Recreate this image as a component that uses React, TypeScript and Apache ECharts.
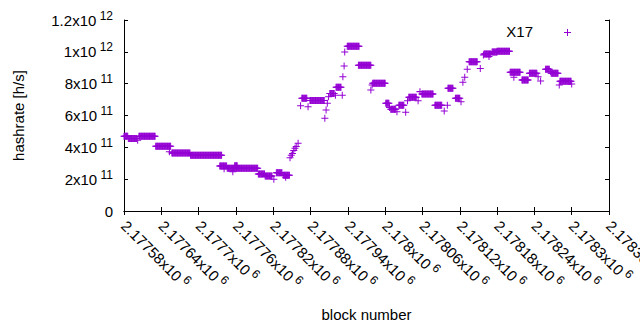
import React, { useEffect, useRef } from "react";
import * as echarts from "echarts";

// Runs of blocks with a constant hashrate estimate
const runStart = [
  2177580, 2177587, 2177602, 2177604, 2177631, 2177653, 2177657, 2177687, 2177734, 2177741,
  2177755, 2177758, 2177746, 2177796, 2177807, 2177821, 2177825, 2177836, 2177840, 2177847,
  2177849, 2177851, 2177853, 2177855, 2177857, 2177860, 2177864, 2177866, 2177876, 2177879,
  2177903, 2177905, 2177907, 2177909, 2177911, 2177920, 2177921, 2177931, 2177932, 2177934,
  2177935, 2177939, 2177957, 2177977, 2177979, 2177980, 2178001, 2178007, 2178009, 2178019,
  2178022, 2178033, 2178036, 2178038, 2178053, 2178056, 2178059, 2178080, 2178095, 2178100,
  2178101, 2178113, 2178122, 2178125, 2178128, 2178132, 2178135, 2178153, 2178158, 2178159,
  2178167, 2178172, 2178180, 2178201, 2178207, 2178220, 2178232, 2178246, 2178250, 2178258,
  2178266, 2178267, 2178280, 2178281, 2178300,
];
const runEnd = [
  2177586, 2177600, 2177602, 2177630, 2177655, 2177653, 2177686, 2177737, 2177745, 2177741,
  2177755, 2177762, 2177795, 2177806, 2177818, 2177821, 2177834, 2177846, 2177840, 2177847,
  2177849, 2177851, 2177853, 2177855, 2177857, 2177860, 2177864, 2177874, 2177876, 2177902,
  2177903, 2177905, 2177907, 2177909, 2177918, 2177920, 2177929, 2177931, 2177932, 2177934,
  2177935, 2177958, 2177977, 2177977, 2177979, 2178000, 2178006, 2178007, 2178017, 2178019,
  2178030, 2178033, 2178036, 2178050, 2178053, 2178056, 2178077, 2178091, 2178095, 2178100,
  2178109, 2178120, 2178122, 2178125, 2178128, 2178132, 2178148, 2178153, 2178158, 2178170,
  2178167, 2178180, 2178200, 2178217, 2178207, 2178230, 2178244, 2178246, 2178250, 2178264,
  2178266, 2178278, 2178280, 2178299, 2178300,
];
const runValue = [
  4.69e11, 4.55e11, 4.45e11, 4.69e11, 4.07e11, 3.73e11, 3.64e11, 3.5e11, 2.83e11, 2.66e11,
  2.47e11, 2.85e11, 2.68e11, 2.32e11, 2.2e11, 1.99e11, 2.41e11, 2.24e11, 2.12e11, 3.35e11,
  3.5e11, 3.62e11, 3.8e11, 3.94e11, 4.05e11, 4.25e11, 6.62e11, 7.08e11, 6.55e11, 6.95e11,
  5.82e11, 6.35e11, 6.77e11, 7.18e11, 7.39e11, 7.27e11, 7.77e11, 7.27e11, 8.44e11, 9.11e11,
  9.99e11, 1.035e12, 9.15e11, 7.6e11, 7.92e11, 8.02e11, 6.77e11, 6.51e11, 6.39e11, 6.24e11,
  6.64e11, 6.2e11, 6.93e11, 7.14e11, 6.93e11, 7.5e11, 7.35e11, 6.64e11, 6.28e11, 6.64e11,
  7.71e11, 7.08e11, 6.87e11, 8.09e11, 8.4e11, 8.9e11, 9.38e11, 8.96e11, 9.8e11, 9.86e11,
  9.7e11, 9.99e11, 1.003e12, 8.71e11, 8.4e11, 8.23e11, 8.65e11, 8.44e11, 8.17e11, 8.9e11,
  8.77e11, 8.65e11, 7.92e11, 8.15e11, 7.98e11,
];

const xTickMantissa = [
  "2.17758", "2.17764", "2.1777", "2.17776", "2.17782", "2.17788", "2.17794",
  "2.178", "2.17806", "2.17812", "2.17818", "2.17824", "2.1783", "2.17836",
];
const xTickExp = "6";
const yTickMantissa = ["0", "2", "4", "6", "8", "1", "1.2"];
const yTickExp = ["", "11", "11", "11", "11", "12", "12"];

const seriesName = "X17";
const COLOR = "#9400d3";
const FONT = "Liberation Sans, Arial, sans-serif";
const PLUS = "path://M3,0h1v3h3v1h-3v3h-1v-3h-3v-1h3z";

export default function App() {
  const ref = useRef<HTMLDivElement>(null);
  useEffect(() => {
    if (!ref.current) return;
    const chart = echarts.init(ref.current, undefined, { renderer: "svg" });
    const points: number[][] = [];
    for (let i = 0; i < runStart.length; i++) {
      for (let b = runStart[i]; b <= runEnd[i]; b++) points.push([b, runValue[i]]);
    }
    const rich = {
      m: { fontSize: 15, fontFamily: FONT, color: "#000" },
      e: { fontSize: 12, fontFamily: FONT, color: "#000", padding: [0, 0, 9, 0] },
    };
    const xMin = 2177580, xMax = 2178360, xInt = 60;
    const tickStyle = { show: true, inside: true, length: 4, lineStyle: { color: "#000" } };
    const lineStyle = { show: true, lineStyle: { color: "#000", width: 1 } };
    chart.setOption({
      animation: false,
      textStyle: { fontFamily: FONT },
      grid: {
        left: 124,
        right: 31,
        top: 20,
        bottom: 119,
        containLabel: false,
        outerBoundsMode: "none",
      },
      graphic: [
        {
          type: "text",
          right: 640 - 533,
          top: 24,
          style: { text: seriesName, fontSize: 15, fill: "#000", fontFamily: FONT },
        },
        {
          type: "rect",
          shape: { x: 564, y: 32, width: 7, height: 1 },
          style: { fill: COLOR },
        },
        {
          type: "rect",
          shape: { x: 567, y: 29, width: 1, height: 7 },
          style: { fill: COLOR },
        },
      ],
      xAxis: [
        {
          type: "value",
          min: xMin,
          max: xMax,
          interval: xInt,
          splitLine: { show: false },
          axisLine: lineStyle,
          axisTick: tickStyle,
          axisLabel: {
            rotate: -45,
            margin: 12,
            formatter: (v: number) =>
              `{m|${xTickMantissa[Math.round((v - xMin) / xInt)]}x10}{e| ${xTickExp}}`,
            rich,
          },
          name: "block number",
          nameLocation: "middle",
          nameGap: 96,
          nameTextStyle: { fontSize: 15, color: "#000", fontFamily: FONT },
        },
        {
          type: "value",
          position: "top",
          min: xMin,
          max: xMax,
          interval: xInt,
          splitLine: { show: false },
          axisLine: lineStyle,
          axisTick: tickStyle,
          axisLabel: { show: false },
        },
      ],
      yAxis: [
        {
          type: "value",
          min: 0,
          max: 1.2e12,
          interval: 2e11,
          splitLine: { show: false },
          axisLine: lineStyle,
          axisTick: tickStyle,
          axisLabel: {
            margin: 11,
            formatter: (v: number) => {
              const idx = Math.round(v / 2e11);
              return yTickExp[idx]
                ? `{m|${yTickMantissa[idx]}x10}{e| ${yTickExp[idx]}}`
                : `{m|${yTickMantissa[idx]}}`;
            },
            rich,
          },
          name: "hashrate [h/s]",
          nameLocation: "middle",
          nameGap: 98,
          nameTextStyle: { fontSize: 15, color: "#000", fontFamily: FONT },
        },
        {
          type: "value",
          position: "right",
          min: 0,
          max: 1.2e12,
          interval: 2e11,
          splitLine: { show: false },
          axisLine: lineStyle,
          axisTick: tickStyle,
          axisLabel: { show: false },
        },
      ],
      series: [
        {
          name: seriesName,
          type: "scatter",
          data: points,
          symbol: PLUS,
          symbolSize: 7,
          itemStyle: { color: COLOR, opacity: 1 },
          clip: false,
        },
      ],
    });
    return () => chart.dispose();
  }, []);
  return <div ref={ref} style={{ width: 640, height: 330, position: "absolute", left: 0, top: 0 }} />;
}
